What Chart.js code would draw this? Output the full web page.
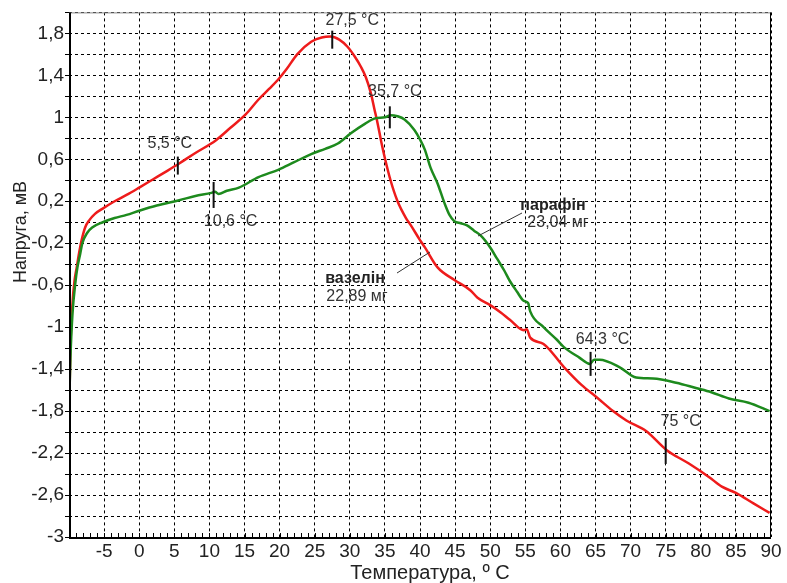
<!DOCTYPE html>
<html>
<head>
<meta charset="utf-8">
<title>ДСК: вазелін і парафін</title>
<script src="https://cdn.jsdelivr.net/npm/chart.js@4.4.0/dist/chart.umd.min.js"></script>
<style>
    html, body { margin: 0; padding: 0; background: #fff; }
    canvas { display: block; }
</style>
</head>
<body>
<canvas id="dscChart" width="787" height="583"></canvas>
<script>
// вазелін (червона крива)
const vaselineT = [-9.9, -9.8, -9.5, -9.2, -8.9, -8.5, -8.2, -7.7, -7.1, -6.3, -5.2, -3.5, -1.8, 0, 2, 4, 5.7, 8, 10.9, 13,
    15.2, 17.0, 18.5, 19.8, 21, 22.5, 24.5, 26, 27.2, 28.5, 29.7, 30.7, 31.6, 32.3, 33.0, 33.5, 34.0, 34.5, 35.0, 35.8,
    36.8, 38.0, 38.7, 40.0, 40.7, 42.5, 44.9, 47.2, 48.2, 50.0, 51.5, 52.8, 54.8, 55.2, 55.7, 57.6, 60.5, 63, 65.2, 67.5,
    69.4, 72.2, 75.1, 78.3, 81.2, 83, 85, 87.5, 89.8];
const vaselineU = [-1.55, -1.2, -0.77, -0.55, -0.43, -0.27, -0.17, -0.05, 0.02, 0.08, 0.13, 0.20, 0.26, 0.33, 0.41, 0.49, 0.56, 0.66, 0.78, 0.90,
    1.03, 1.17, 1.27, 1.36, 1.46, 1.60, 1.72, 1.76, 1.77, 1.74, 1.67, 1.58, 1.48, 1.38, 1.23, 1.08, 0.93, 0.76, 0.61, 0.40,
    0.20, 0.04, -0.03, -0.17, -0.24, -0.43, -0.55, -0.65, -0.72, -0.79, -0.86, -0.93, -1.03, -1.02, -1.10, -1.16, -1.38, -1.55, -1.67, -1.80,
    -1.89, -1.99, -2.17, -2.30, -2.43, -2.52, -2.58, -2.68, -2.77];

// парафін (зелена крива)
const paraffinT = [-9.9, -9.8, -9.5, -9.1, -8.8, -8.4, -8.1, -7.4, -6.7, -5.2, -3.5, -1.8, 0, 2.5, 5.7, 8, 10.3, 10.8, 11.3, 12.5,
    14.2, 17.0, 19.8, 22, 24.5, 26.5, 28.3, 30.2, 32.2, 33.6, 35.0, 35.8, 36.8, 37.8, 39.2, 40.0, 40.7, 41.5, 42.5, 43.5,
    44.2, 44.9, 45.8, 46.7, 47.7, 48.7, 50.0, 51.0, 52.0, 52.8, 53.8, 54.8, 55.4, 55.7, 57.6, 59.5, 60.5, 62.7, 64.2, 64.8,
    65.6, 68.4, 70.8, 73.2, 76.5, 79.3, 81.5, 84.0, 86.8, 89.8];
const paraffinU = [-1.55, -1.3, -0.87, -0.58, -0.43, -0.30, -0.20, -0.10, -0.05, 0.00, 0.04, 0.07, 0.11, 0.16, 0.21, 0.25, 0.28, 0.29, 0.27, 0.30,
    0.33, 0.43, 0.50, 0.57, 0.65, 0.70, 0.75, 0.85, 0.94, 0.99, 1.00, 1.02, 1.01, 0.98, 0.88, 0.79, 0.69, 0.52, 0.37, 0.18,
    0.07, 0.01, -0.01, -0.03, -0.08, -0.13, -0.24, -0.35, -0.46, -0.56, -0.66, -0.75, -0.77, -0.85, -1.00, -1.12, -1.19, -1.29, -1.35, -1.31,
    -1.31, -1.38, -1.48, -1.49, -1.53, -1.58, -1.62, -1.68, -1.72, -1.80];

// осі
const xMin = -10, xMax = 90, xStep = 5;
const yMin = -3, yMax = 2, yStep = 0.2;

// позначки температур переходів
const markerT = [5.5, 10.6, 27.5, 35.7, 64.3, 75];
const markerU = [0.54, 0.26, 1.74, 1.0, -1.35, -2.18];
const markerText = ['5,5 °C', '10,6 °C', '27,5 °C', '35,7 °C', '64,3 °C', '75 °C'];

// підписи зразків
const sampleName = ['парафін', 'вазелін'];
const sampleMass = ['23,04 мг', '22,89 мг'];

// розміщення підписів (пікселі відносно позначки)
const markerHalf = [9, 13, 9, 11, 12, 13];
const markerLabelOffset = [[-8, -22], [17, 27], [20, -19], [5, -26], [12, -24], [15, -29]];

const RED = '#ee1b1b';
const GREEN = '#1d8a1d';
const TEXT = '#333';
const FONT = '"Liberation Sans", Arial, sans-serif';

function fmt(v) {
    return String(Math.round(v * 10) / 10).replace('.', ',');
}

function toPoints(xs, ys) {
    return xs.map((x, i) => ({ x: x, y: ys[i] }));
}

const overlay = {
    id: 'overlay',
    afterDraw(chart) {
        const ctx = chart.ctx;
        const a = chart.chartArea;
        const xs = chart.scales.x;
        const ys = chart.scales.y;
        ctx.save();

        // дрібні поділки осі X
        ctx.strokeStyle = '#000';
        ctx.lineWidth = 1;
        ctx.beginPath();
        for (let t = xMin + 1; t < xMax; t++) {
            const px = Math.round(xs.getPixelForValue(t)) + 0.5;
            ctx.moveTo(px, a.bottom);
            ctx.lineTo(px, a.bottom - 4);
        }
        ctx.stroke();

        // рамка
        ctx.strokeStyle = '#888';
        ctx.beginPath();
        ctx.moveTo(a.left, a.top + 0.5);
        ctx.lineTo(a.right, a.top + 0.5);
        ctx.stroke();
        ctx.strokeStyle = '#000';
        ctx.beginPath();
        ctx.moveTo(a.right - 0.5, a.top);
        ctx.lineTo(a.right - 0.5, a.bottom);
        ctx.stroke();
        ctx.lineWidth = 2;
        ctx.beginPath();
        ctx.moveTo(a.left + 1, a.top);
        ctx.lineTo(a.left + 1, a.bottom + 1);
        ctx.lineTo(a.right, a.bottom + 1);
        ctx.stroke();

        // позначки переходів
        ctx.fillStyle = TEXT;
        ctx.font = '16px ' + FONT;
        ctx.textAlign = 'center';
        ctx.textBaseline = 'middle';
        markerT.forEach((t, i) => {
            const px = xs.getPixelForValue(t);
            const py = ys.getPixelForValue(markerU[i]);
            ctx.strokeStyle = '#111';
            ctx.lineWidth = 2;
            ctx.beginPath();
            ctx.moveTo(px, py - markerHalf[i]);
            ctx.lineTo(px, py + markerHalf[i]);
            ctx.stroke();
            ctx.fillText(markerText[i], px + markerLabelOffset[i][0], py + markerLabelOffset[i][1]);
        });

        // підписи кривих з виносками
        ctx.strokeStyle = '#333';
        ctx.lineWidth = 1;
        ctx.beginPath();
        ctx.moveTo(522, 213);
        ctx.lineTo(478, 236);
        ctx.moveTo(397, 273);
        ctx.lineTo(430, 252);
        ctx.stroke();

        ctx.font = 'bold 16px ' + FONT;
        ctx.fillStyle = '#222';
        ctx.fillText(sampleName[0], 553, 206);
        ctx.fillText(sampleName[1], 355, 279);
        ctx.font = '16px ' + FONT;
        ctx.fillStyle = TEXT;
        ctx.fillText(sampleMass[0], 558, 223);
        ctx.fillText(sampleMass[1], 357, 297);

        // назви осей
        ctx.fillStyle = '#222';
        ctx.font = '20px ' + FONT;
        ctx.fillText('Температура, º C', 430, 573);
        ctx.font = '18px ' + FONT;
        ctx.translate(21, 232);
        ctx.rotate(-Math.PI / 2);
        ctx.fillText('Напруга, мВ', 0, 0);

        ctx.restore();
    }
};

const ctx = document.getElementById('dscChart').getContext('2d');
new Chart(ctx, {
    type: 'line',
    data: {
        datasets: [{
            label: 'парафін',
            data: toPoints(paraffinT, paraffinU),
            borderColor: GREEN,
            borderWidth: 2.5,
            pointRadius: 0,
            cubicInterpolationMode: 'monotone',
            fill: false
        }, {
            label: 'вазелін',
            data: toPoints(vaselineT, vaselineU),
            borderColor: RED,
            borderWidth: 2.5,
            pointRadius: 0,
            cubicInterpolationMode: 'monotone',
            fill: false
        }]
    },
    options: {
        responsive: false,
        animation: false,
        devicePixelRatio: 1,
        layout: { padding: { top: 12, right: 16, left: 0, bottom: 0 } },
        plugins: {
            legend: { display: false },
            tooltip: { enabled: false }
        },
        scales: {
            x: {
                type: 'linear',
                min: xMin,
                max: xMax,
                afterFit: s => { s.height = 46; },
                border: { display: false, dash: [3, 3] },
                grid: { color: '#000', lineWidth: 1, drawTicks: false },
                ticks: {
                    stepSize: xStep,
                    autoSkip: false,
                    maxRotation: 0,
                    padding: 3,
                    color: '#222',
                    font: { family: FONT, size: 19 },
                    callback: v => (v === xMin ? '' : String(v))
                }
            },
            y: {
                type: 'linear',
                min: yMin,
                max: yMax,
                afterFit: s => { s.width = 69; },
                border: { display: false, dash: [3, 3] },
                grid: { color: '#000', lineWidth: 1, drawTicks: true, tickLength: 4, tickColor: '#000' },
                ticks: {
                    stepSize: yStep,
                    autoSkip: false,
                    padding: 1,
                    color: '#222',
                    font: { family: FONT, size: 19 },
                    callback: v => {
                        const k = Math.round((v - yMin) / yStep);
                        return (k % 2 === 0 && v < yMax - 0.1) ? fmt(v) : '';
                    }
                }
            }
        }
    },
    plugins: [overlay]
});
</script>
</body>
</html>
